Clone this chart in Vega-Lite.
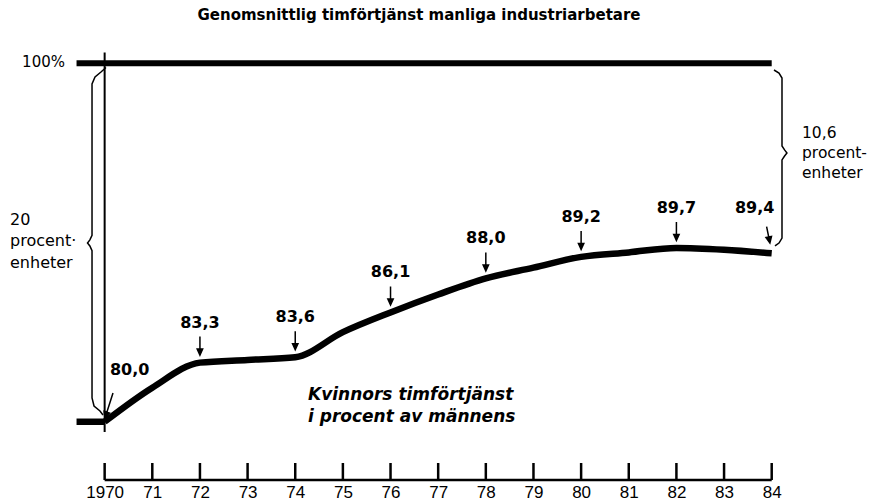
{
  "$schema": "https://vega.github.io/schema/vega-lite/v6.json",
  "width": 810,
  "height": 448,
  "autosize": "none",
  "padding": {"left": 57, "top": 32, "right": 4, "bottom": 23},
  "background": "white",
  "config": {
    "view": {"stroke": null},
    "font": "DejaVu Sans",
    "axisY": {"disable": true}
  },
  "title": {
    "text": "Genomsnittlig timförtjänst manliga industriarbetare",
    "font": "DejaVu Sans",
    "fontSize": 15,
    "fontWeight": "bold",
    "color": "#000",
    "anchor": "middle",
    "dx": -43,
    "offset": 9
  },
  "datasets": {
    "kvinnor": [
      {"year": 1970, "pct": 80.0, "label": "80,0"},
      {"year": 1971, "pct": 81.9},
      {"year": 1972, "pct": 83.3, "label": "83,3"},
      {"year": 1973, "pct": 83.45},
      {"year": 1974, "pct": 83.6, "label": "83,6"},
      {"year": 1975, "pct": 85.0},
      {"year": 1976, "pct": 86.1, "label": "86,1"},
      {"year": 1977, "pct": 87.1},
      {"year": 1978, "pct": 88.0, "label": "88,0"},
      {"year": 1979, "pct": 88.6},
      {"year": 1980, "pct": 89.2, "label": "89,2"},
      {"year": 1981, "pct": 89.45},
      {"year": 1982, "pct": 89.7, "label": "89,7"},
      {"year": 1983, "pct": 89.6},
      {"year": 1984, "pct": 89.4, "label": "89,4"}
    ],
    "klammer": [
      {"side": "20", "i": 1, "year": 1970.028, "pct": 99.77},
      {"side": "20", "i": 2, "year": 1969.923, "pct": 99.52},
      {"side": "20", "i": 3, "year": 1969.798, "pct": 99.24},
      {"side": "20", "i": 4, "year": 1969.735, "pct": 98.85},
      {"side": "20", "i": 5, "year": 1969.735, "pct": 90.4},
      {"side": "20", "i": 6, "year": 1969.69, "pct": 90.15},
      {"side": "20", "i": 7, "year": 1969.64, "pct": 89.98},
      {"side": "20", "i": 8, "year": 1969.69, "pct": 89.81},
      {"side": "20", "i": 9, "year": 1969.735, "pct": 89.55},
      {"side": "20", "i": 10, "year": 1969.735, "pct": 81.33},
      {"side": "20", "i": 11, "year": 1969.777, "pct": 80.88},
      {"side": "20", "i": 12, "year": 1969.902, "pct": 80.6},
      {"side": "20", "i": 13, "year": 1969.965, "pct": 80.38},
      {"side": "10,6", "i": 1, "year": 1984.048, "pct": 99.63},
      {"side": "10,6", "i": 2, "year": 1984.153, "pct": 99.46},
      {"side": "10,6", "i": 3, "year": 1984.216, "pct": 99.18},
      {"side": "10,6", "i": 4, "year": 1984.216, "pct": 95.39},
      {"side": "10,6", "i": 5, "year": 1984.27, "pct": 95.17},
      {"side": "10,6", "i": 6, "year": 1984.32, "pct": 95.0},
      {"side": "10,6", "i": 7, "year": 1984.27, "pct": 94.83},
      {"side": "10,6", "i": 8, "year": 1984.216, "pct": 94.61},
      {"side": "10,6", "i": 9, "year": 1984.216, "pct": 90.25},
      {"side": "10,6", "i": 10, "year": 1984.153, "pct": 89.97},
      {"side": "10,6", "i": 11, "year": 1984.069, "pct": 89.81}
    ]
  },
  "layer": [
    {
      "data": {"name": "kvinnor"},
      "mark": {"type": "line", "color": "#000", "strokeWidth": 6.5, "interpolate": "monotone", "strokeCap": "butt"},
      "encoding": {
        "x": {
          "field": "year",
          "type": "quantitative",
          "scale": {"domain": [1969, 1986], "nice": false, "zero": false},
          "axis": {
            "title": null,
            "values": [1970, 1971, 1972, 1973, 1974, 1975, 1976, 1977, 1978, 1979, 1980, 1981, 1982, 1983, 1984],
            "format": "d",
            "labelExpr": "datum.value == 1970 ? '1970' : substring(datum.label, 2)",
            "domain": false,
            "ticks": false,
            "tickSize": 0,
            "grid": false,
            "labelPadding": 4,
            "labelFont": "Liberation Sans",
            "labelFontSize": 17,
            "labelColor": "#000",
            "labelOverlap": false,
            "labelFlush": false
          }
        },
        "y": {
          "field": "pct",
          "type": "quantitative",
          "scale": {"domain": [76.75, 101.75], "nice": false, "zero": false},
          "axis": null
        }
      }
    },
    {
      "data": {"values": [{"serie": "kvinnor 1969"}]},
      "mark": {"type": "rule", "color": "#000", "strokeWidth": 6.5, "strokeCap": "butt"},
      "encoding": {"x": {"datum": 1969.41}, "x2": {"datum": 1970}, "y": {"datum": 80}}
    },
    {
      "data": {"values": [{"serie": "män"}]},
      "mark": {"type": "rule", "color": "#000", "strokeWidth": 6, "strokeCap": "butt"},
      "encoding": {"x": {"datum": 1969.41}, "x2": {"datum": 1984}, "y": {"datum": 100}}
    },
    {
      "data": {"values": [{"serie": "1970"}]},
      "mark": {"type": "rule", "color": "#000", "strokeWidth": 2},
      "encoding": {"x": {"datum": 1970}, "y": {"datum": 79.43}, "y2": {"datum": 100.6}}
    },
    {
      "data": {"name": "klammer"},
      "mark": {"type": "line", "color": "#000", "strokeWidth": 1.5, "interpolate": "linear"},
      "encoding": {
        "x": {"field": "year", "type": "quantitative"},
        "y": {"field": "pct", "type": "quantitative"},
        "detail": {"field": "side"},
        "order": {"field": "i", "type": "quantitative"}
      }
    },
    {
      "data": {"values": [{"serie": "axel"}]},
      "mark": {"type": "rule", "color": "#000", "strokeWidth": 2.5},
      "encoding": {"x": {"datum": 1970}, "x2": {"datum": 1984}, "y": {"datum": 76.75}}
    },
    {
      "data": {"name": "kvinnor"},
      "mark": {"type": "rule", "color": "#000", "strokeWidth": 2.5},
      "encoding": {
        "x": {"field": "year", "type": "quantitative"},
        "y": {"datum": 76.75},
        "y2": {"datum": 77.7}
      }
    },
    {
      "data": {"name": "kvinnor"},
      "transform": [{"filter": "datum.label != null && datum.year > 1970 && datum.year < 1984"}],
      "mark": {"type": "text", "font": "DejaVu Sans", "fontWeight": "bold", "fontSize": 16, "color": "#000", "dy": -40, "baseline": "middle"},
      "encoding": {
        "x": {"field": "year", "type": "quantitative"},
        "y": {"field": "pct", "type": "quantitative"},
        "text": {"field": "label"}
      }
    },
    {
      "data": {"name": "kvinnor"},
      "transform": [{"filter": "datum.year == 1970"}],
      "mark": {"type": "text", "font": "DejaVu Sans", "fontWeight": "bold", "fontSize": 16, "color": "#000", "dx": 25, "dy": -52, "baseline": "middle"},
      "encoding": {
        "x": {"field": "year", "type": "quantitative"},
        "y": {"field": "pct", "type": "quantitative"},
        "text": {"field": "label"}
      }
    },
    {
      "data": {"name": "kvinnor"},
      "transform": [{"filter": "datum.year == 1984"}],
      "mark": {"type": "text", "font": "DejaVu Sans", "fontWeight": "bold", "fontSize": 16, "color": "#000", "dx": -17, "dy": -45, "baseline": "middle"},
      "encoding": {
        "x": {"field": "year", "type": "quantitative"},
        "y": {"field": "pct", "type": "quantitative"},
        "text": {"field": "label"}
      }
    },
    {
      "data": {"name": "kvinnor"},
      "transform": [{"filter": "datum.label != null && datum.year > 1970 && datum.year < 1984"}],
      "mark": {"type": "point", "shape": "M0,-2.6 L0,-0.75 M-0.27,-1.35 L0,-0.75 L0.27,-1.35 Z", "size": 400, "filled": true, "color": "#000", "stroke": "#000", "strokeWidth": 1.5, "opacity": 1},
      "encoding": {
        "x": {"field": "year", "type": "quantitative"},
        "y": {"field": "pct", "type": "quantitative"}
      }
    },
    {
      "data": {"name": "kvinnor"},
      "transform": [{"filter": "datum.year == 1970"}],
      "mark": {"type": "point", "shape": "M0.835,-2.88 L0.035,-0.38 M0.485,-0.866 L0.035,-0.38 L-0.049,-1.036 Z", "size": 400, "filled": true, "color": "#000", "stroke": "#000", "strokeWidth": 1.5, "opacity": 1},
      "encoding": {
        "x": {"field": "year", "type": "quantitative"},
        "y": {"field": "pct", "type": "quantitative"}
      }
    },
    {
      "data": {"name": "kvinnor"},
      "transform": [{"filter": "datum.year == 1984"}],
      "mark": {"type": "point", "shape": "M-0.51,-2.67 L-0.18,-1.04 M-0.025,-1.683 L-0.18,-1.04 L-0.573,-1.573 Z", "size": 400, "filled": true, "color": "#000", "stroke": "#000", "strokeWidth": 1.5, "opacity": 1},
      "encoding": {
        "x": {"field": "year", "type": "quantitative"},
        "y": {"field": "pct", "type": "quantitative"}
      }
    },
    {
      "data": {"values": [{"t": "100%"}]},
      "mark": {"type": "text", "font": "DejaVu Sans", "fontSize": 15, "color": "#000", "align": "right", "baseline": "middle"},
      "encoding": {"x": {"datum": 1969.168}, "y": {"datum": 100.09}, "text": {"field": "t"}}
    },
    {
      "data": {"values": [{"t": ["20", "procent·", "enheter"]}]},
      "mark": {"type": "text", "font": "DejaVu Sans", "fontSize": 16, "lineHeight": 21.5, "color": "#000", "align": "left", "baseline": "middle"},
      "encoding": {"x": {"datum": 1968.014}, "y": {"datum": 91.26}, "text": {"field": "t"}}
    },
    {
      "data": {"values": [{"t": ["10,6", "procent-", "enheter"]}]},
      "mark": {"type": "text", "font": "DejaVu Sans", "fontSize": 15.5, "lineHeight": 20, "color": "#000", "align": "left", "baseline": "middle"},
      "encoding": {"x": {"datum": 1984.636}, "y": {"datum": 96.11}, "text": {"field": "t"}}
    },
    {
      "data": {"values": [{"t": ["Kvinnors timförtjänst", "i procent av männens"]}]},
      "mark": {"type": "text", "font": "DejaVu Sans", "fontWeight": "bold", "fontStyle": "italic", "fontSize": 17, "lineHeight": 22, "color": "#000", "align": "left", "baseline": "middle"},
      "encoding": {"x": {"datum": 1974.268}, "y": {"datum": 81.49}, "text": {"field": "t"}}
    }
  ]
}
